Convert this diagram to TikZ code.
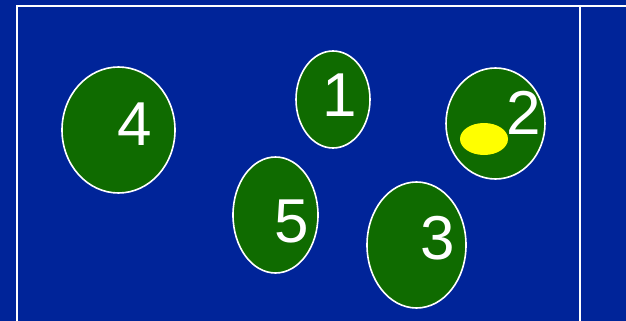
\documentclass[tikz,border=0pt]{standalone}
\usepackage{fontspec}
\setmainfont{Liberation Sans}
\definecolor{bgblue}{RGB}{0,36,153}
\definecolor{blobgreen}{RGB}{15,107,0}
\definecolor{spot}{RGB}{255,255,0}
\begin{document}
\begin{tikzpicture}[x=1pt,y=-1pt,
  blob/.style={draw=white,line width=1.6pt,fill=blobgreen},
  digit/.style={text=white,inner sep=0pt,font=\fontsize{62}{62}\selectfont},
  frame/.style={draw=white,line width=2pt}]
\fill[bgblue] (0,0) rectangle (626,321);
\useasboundingbox (0,0) rectangle (626,321);
\coordinate (tl) at (17,6);
\coordinate (tr) at (626,6);
\coordinate (bl) at (17,321);
\coordinate (rt) at (580,6);
\coordinate (rb) at (580,321);
\draw[frame] (tr) -- (tl) -- (bl);
\draw[frame] (rt) -- (rb);
% ellipses
\path[blob] (118.5,130) ellipse [x radius=56.5, y radius=63];
\path[blob] (333,99.5) ellipse [x radius=37, y radius=48.5];
\path[blob] (495.5,123.5) ellipse [x radius=49.5, y radius=55.5];
\path[blob] (275.5,215) ellipse [x radius=42.5, y radius=58];
\path[blob] (416.5,245) ellipse [x radius=49.5, y radius=63];
\fill[spot] (484,139) ellipse [x radius=24, y radius=16];
% digits
\node[digit] (n4) at (134.5,124.5) {4};
\node[digit] (n1) at (339.5,95.5) {1};
\node[digit] (n2) at (524,112.5) {2};
\node[digit] (n5) at (292,221) {5};
\node[digit] (n3) at (438,238) {3};
\end{tikzpicture}
\end{document}
